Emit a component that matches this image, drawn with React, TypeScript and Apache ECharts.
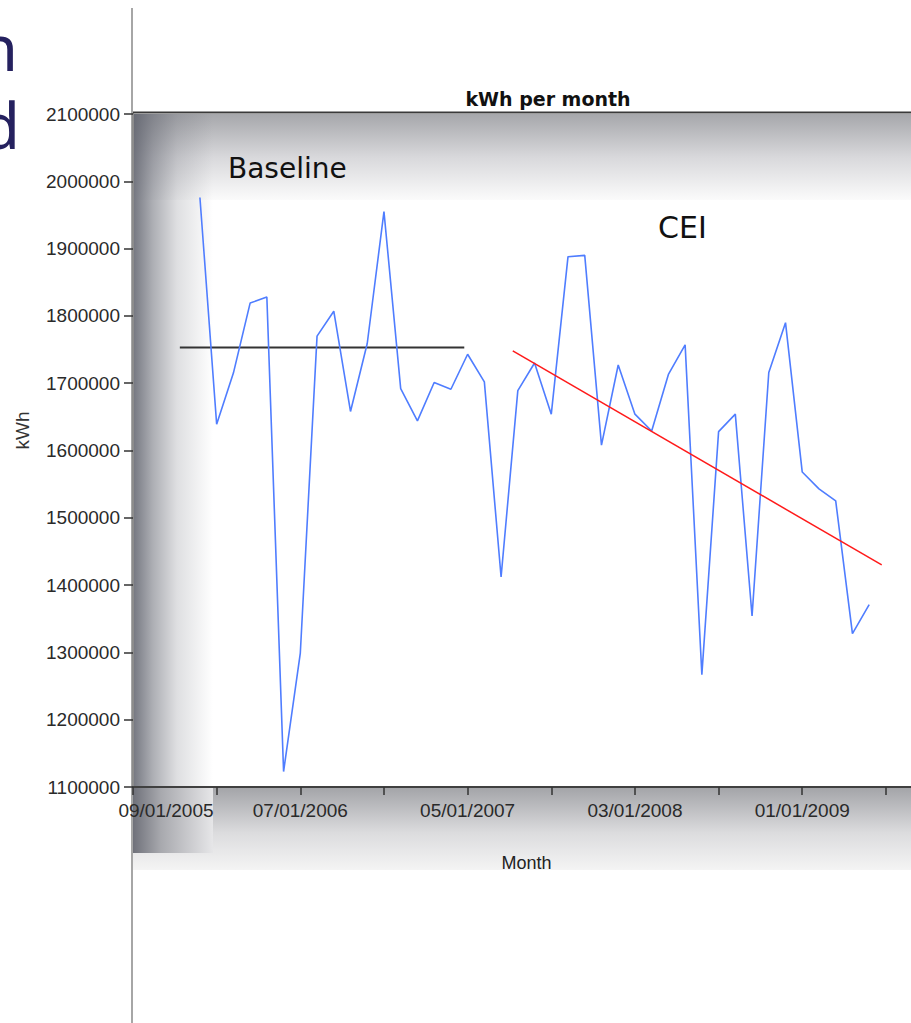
import React, { useEffect, useRef } from "react";
import * as echarts from "echarts";

// ---- data ----
const months = [
  "01/2006", "02/2006", "03/2006", "04/2006", "05/2006", "06/2006", "07/2006", "08/2006",
  "09/2006", "10/2006", "11/2006", "12/2006", "01/2007", "02/2007", "03/2007", "04/2007",
  "05/2007", "06/2007", "07/2007", "08/2007", "09/2007", "10/2007", "11/2007", "12/2007",
  "01/2008", "02/2008", "03/2008", "04/2008", "05/2008", "06/2008", "07/2008", "08/2008",
  "09/2008", "10/2008", "11/2008", "12/2008", "01/2009", "02/2009", "03/2009", "04/2009",
  "05/2009",
];
const kwh = [
  1976000, 1639000, 1715000, 1819000, 1828000, 1123000, 1299000, 1770000,
  1807000, 1658000, 1759000, 1955000, 1692000, 1644000, 1701000, 1691000,
  1743000, 1702000, 1412000, 1689000, 1730000, 1654000, 1888000, 1890000,
  1608000, 1727000, 1654000, 1629000, 1713000, 1757000, 1267000, 1628000,
  1654000, 1354000, 1716000, 1790000, 1568000, 1543000, 1525000, 1328000,
  1371000,
];
// baseline level (months since 09/2005) and CEI trend line
const baselineMonths = [2.8, 19.8];
const baselineKwh = [1753000, 1753000];
const trendMonths = [22.7, 44.75];
const trendKwh = [1748000, 1430000];

const xTickLabels = ["09/01/2005", "07/01/2006", "05/01/2007", "03/01/2008", "01/01/2009"];
const Y_MIN = 1100000;
const Y_MAX = 2100000;
const Y_STEP = 100000;
const X_MIN = 0;
const X_MAX = 46.5;
const X_STEP = 5;

// ---- layout ----
const W = 911;
const H = 1023;
const GL = 133;
const GT = 114;
const GB = 787;

const monthIndex = (m: string) => {
  const [mm, yy] = m.split("/").map(Number);
  return (yy - 2005) * 12 + (mm - 9);
};

export default function App() {
  const ref = useRef<HTMLDivElement>(null);
  useEffect(() => {
    if (!ref.current) return;
    const chart = echarts.init(ref.current, null, { renderer: "svg" });
    const tickFont = "'Liberation Sans', Arial, sans-serif";
    const lin = (x2: number, y2: number, stops: [number, string][]) => ({
      type: "linear",
      x: 0,
      y: 0,
      x2,
      y2,
      colorStops: stops.map(([offset, color]) => ({ offset, color })),
    });
    chart.setOption({
      animation: false,
      backgroundColor: "#ffffff",
      title: {
        text: "kWh per month",
        left: 543,
        top: 84,
        textAlign: "center",
        textStyle: {
          fontFamily: "'DejaVu Sans', sans-serif",
          fontWeight: "bold",
          fontSize: 19,
          color: "#111",
        },
      },
      grid: { left: GL, right: 0, top: GT, bottom: H - GB, containLabel: false },
      xAxis: {
        type: "value",
        min: X_MIN,
        max: X_MAX,
        interval: X_STEP,
        name: "Month",
        nameLocation: "middle",
        nameGap: 67,
        nameTextStyle: { fontFamily: tickFont, fontSize: 18, color: "#222", padding: [0, 0, 0, 9] },
        axisLine: { lineStyle: { color: "#404040", width: 2 } },
        axisTick: { show: true, length: 8, lineStyle: { color: "#333", width: 1.5 } },
        splitLine: { show: false },
        axisLabel: {
          showMinLabel: true,
          showMaxLabel: false,
          margin: 14,
          fontFamily: tickFont,
          fontSize: 19,
          color: "#2a2a2a",
          formatter: (v: number) => {
            if (Math.abs(v % 10) > 1e-6 || v > 40) return "";
            const lbl = xTickLabels[Math.round(v / 10)];
            return v === 0 ? `{pad|}{t|${lbl}}` : lbl;
          },
          rich: {
            pad: { width: 66 },
            t: { fontFamily: tickFont, fontSize: 19, color: "#2a2a2a" },
          },
        },
      },
      yAxis: {
        type: "value",
        min: Y_MIN,
        max: Y_MAX,
        interval: Y_STEP,
        name: "kWh",
        nameLocation: "middle",
        nameGap: 101,
        nameRotate: 90,
        nameTextStyle: {
          fontFamily: tickFont,
          fontSize: 19,
          color: "#333",
          padding: [0, 0, 0, 40],
        },
        axisLine: { show: true, lineStyle: { color: "#8c8c8c", width: 2 } },
        axisTick: { show: true, length: 9, lineStyle: { color: "#333", width: 1.5 } },
        splitLine: { show: false },
        axisLabel: {
          margin: 13,
          fontFamily: tickFont,
          fontSize: 19,
          color: "#2a2a2a",
          formatter: (v: number) => String(v),
        },
      },
      series: [
        {
          type: "line",
          name: "kWh",
          data: months.map((m, i) => [monthIndex(m), kwh[i]]),
          showSymbol: false,
          lineStyle: { color: "#4f7dff", width: 1.6 },
          z: 3,
        },
        {
          type: "line",
          name: "Baseline",
          data: baselineMonths.map((m, i) => [m, baselineKwh[i]]),
          showSymbol: false,
          lineStyle: { color: "#333333", width: 2 },
          z: 2,
        },
        {
          type: "line",
          name: "CEI",
          data: trendMonths.map((m, i) => [m, trendKwh[i]]),
          showSymbol: false,
          lineStyle: { color: "#ff1a1a", width: 1.5 },
          z: 4,
        },
      ],
      graphic: [
        {
          type: "rect",
          z: -10,
          silent: true,
          shape: { x: GL, y: GT, width: W - GL, height: 86 },
          style: { fill: lin(0, 1, [[0, "#a6a7ab"], [0.5, "#d8d8db"], [1, "#fbfbfb"]]) },
        },
        {
          type: "rect",
          z: -10,
          silent: true,
          shape: { x: GL, y: GB + 1, width: W - GL, height: 82 },
          style: { fill: lin(0, 1, [[0, "#a4a5a9"], [0.55, "#dcdcde"], [1, "#f4f4f4"]]) },
        },
        {
          type: "rect",
          z: -9,
          silent: true,
          shape: { x: GL, y: GT, width: 80, height: GB - GT },
          style: {
            fill: lin(1, 0, [
              [0, "rgba(92,95,106,0.85)"],
              [0.25, "rgba(92,95,106,0.5)"],
              [0.55, "rgba(92,95,106,0.2)"],
              [1, "rgba(92,95,106,0)"],
            ]),
          },
        },
        {
          type: "rect",
          z: -9,
          silent: true,
          shape: { x: GL, y: GB + 1, width: 80, height: 65 },
          style: { fill: lin(1, 0, [[0, "#6f717a"], [0.35, "#a8a9ae"], [1, "#e6e6e8"]]) },
        },
        {
          type: "line",
          z: -5,
          silent: true,
          shape: { x1: 132, y1: 8, x2: 132, y2: H },
          style: { stroke: "#a6a6a6", lineWidth: 2 },
        },
        {
          type: "line",
          z: 5,
          silent: true,
          shape: { x1: GL, y1: GT - 1.5, x2: W, y2: GT - 1.5 },
          style: { stroke: "#3a3a3a", lineWidth: 2 },
        },
        {
          type: "text",
          z: 6,
          x: 228,
          y: 154,
          style: {
            text: "Baseline",
            fontFamily: "'DejaVu Sans', sans-serif",
            fontSize: 28,
            fill: "#111",
            textVerticalAlign: "top",
          },
        },
        {
          type: "text",
          z: 6,
          x: 658,
          y: 212,
          style: {
            text: "CEI",
            fontFamily: "'DejaVu Sans', sans-serif",
            fontSize: 30,
            fill: "#111",
            textVerticalAlign: "top",
          },
        },
        {
          type: "text",
          z: 6,
          x: 18,
          y: 46,
          style: {
            text: "n",
            fontFamily: "'Noto Sans', sans-serif",
            fontSize: 64,
            lineHeight: 56,
            fill: "#25215f",
            textAlign: "right",
            textVerticalAlign: "middle",
          },
        },
        {
          type: "text",
          z: 6,
          x: 20,
          y: 124,
          style: {
            text: "d",
            fontFamily: "'Noto Sans', sans-serif",
            fontSize: 64,
            lineHeight: 56,
            fill: "#25215f",
            textAlign: "right",
            textVerticalAlign: "middle",
          },
        },
      ],
    });
    return () => chart.dispose();
  }, []);
  return (
    <div
      ref={ref}
      style={{ position: "absolute", left: 0, top: 0, width: W, height: H }}
    />
  );
}
